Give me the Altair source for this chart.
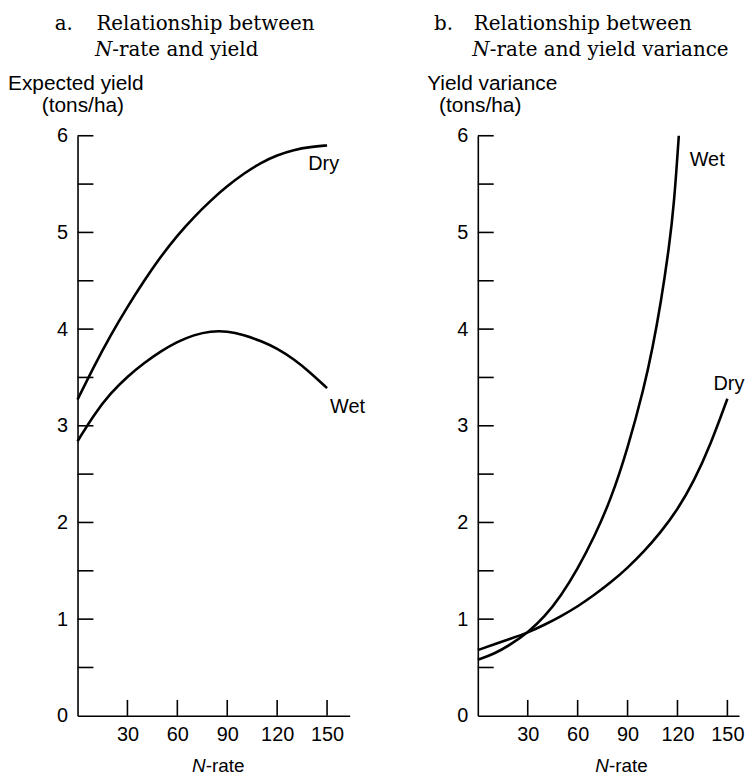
import altair as alt
import pandas as pd

# ---------------- data ----------------
N_A = [0, 10, 20, 30, 40, 50, 60, 70, 80, 90, 100, 110, 120, 130, 140, 150]
DRY_A = [3.27, 3.62, 3.94, 4.23, 4.50, 4.75, 4.97, 5.16, 5.33, 5.48, 5.61, 5.72, 5.80, 5.855, 5.885, 5.90]
WET_A = [2.84, 3.12, 3.34, 3.51, 3.65, 3.77, 3.87, 3.94, 3.98, 3.98, 3.94, 3.88, 3.80, 3.69, 3.55, 3.39]

N_B_DRY = [0, 10, 20, 30, 40, 50, 60, 70, 80, 90, 100, 110, 120, 130, 140, 150]
DRY_B = [0.68, 0.74, 0.80, 0.86, 0.94, 1.03, 1.13, 1.25, 1.38, 1.53, 1.70, 1.90, 2.13, 2.43, 2.81, 3.28]
N_B_WET = [0, 10, 20, 30, 40, 50, 60, 70, 80, 90, 100, 105, 110, 115, 118, 120.8]
WET_B = [0.58, 0.64, 0.74, 0.86, 1.02, 1.24, 1.52, 1.85, 2.24, 2.76, 3.40, 3.80, 4.27, 4.85, 5.30, 6.0]

X_TICKS = [30, 60, 90, 120, 150]
Y_LABELS = [0, 1, 2, 3, 4, 5, 6]
Y_TICKS = [0.5, 1, 1.5, 2, 2.5, 3, 3.5, 4, 4.5, 5, 5.5, 6]

SANS = "Liberation Sans"
SERIF = "DejaVu Serif"
H = 584


def series_df(n, v, name):
    return pd.DataFrame({"n": n, "v": v, "series": name})


def txt(text, x, y, size=20, font=SANS, style="normal", align="left", weight="normal"):
    return alt.Chart(pd.DataFrame({"t": [text]})).mark_text(
        align=align, baseline="alphabetic", font=font, fontSize=size,
        fontStyle=style, fontWeight=weight, color="black"
    ).encode(text="t:N", x=alt.value(x), y=alt.value(y))


def panel(dfs, xmax, width, end_labels, texts):
    data = pd.concat(dfs, ignore_index=True)
    xs = alt.Scale(domain=[0, xmax], nice=False, zero=False)
    ys = alt.Scale(domain=[0, 6], nice=False)
    lines = alt.Chart(data).mark_line(
        color="black", strokeWidth=2.6, interpolate="basis"
    ).encode(
        x=alt.X("n:Q", scale=xs, axis=alt.Axis(values=X_TICKS, title=None, format="d")),
        y=alt.Y("v:Q", scale=ys, axis=alt.Axis(values=Y_LABELS, title=None, format="d")),
        detail="series:N",
    )
    yt = alt.Chart(pd.DataFrame({"v": Y_TICKS})).mark_rule(
        color="black", strokeWidth=1.6
    ).encode(y=alt.Y("v:Q"), x=alt.value(0), x2=alt.value(16))
    xt = alt.Chart(pd.DataFrame({"n": X_TICKS})).mark_rule(
        color="black", strokeWidth=1.6
    ).encode(x=alt.X("n:Q"), y=alt.value(H), y2=alt.value(H - 16))
    layers = [lines, yt, xt]
    for df, name, dx, dy in end_labels:
        last = df.iloc[[-1]].assign(label=name)
        layers.append(
            alt.Chart(last).mark_text(
                align="left", baseline="alphabetic", font=SANS, fontSize=20,
                dx=dx, dy=dy, color="black"
            ).encode(x="n:Q", y="v:Q", text="label:N")
        )
    layers += texts
    return alt.layer(*layers).properties(width=width, height=H)


dA_dry = series_df(N_A, DRY_A, "Dry")
dA_wet = series_df(N_A, WET_A, "Wet")
dB_dry = series_df(N_B_DRY, DRY_B, "Dry")
dB_wet = series_df(N_B_WET, WET_B, "Wet")

texts_a = [
    txt("a.", -23, -106, size=20, font=SERIF),
    txt("Relationship between", 19, -106, size=20, font=SERIF),
    txt("N", 35, -80, size=20, font=SERIF, style="italic", align="right"),
    txt("-rate and yield", 35, -80, size=20, font=SERIF),
    txt("Expected yield", -70, -46, size=21),
    txt("(tons/ha)", -36, -24, size=21),
    txt("N", 129, 641, size=19, style="italic", align="right"),
    txt("-rate", 129, 641, size=19),
]
texts_b = [
    txt("b.", -44, -106, size=20, font=SERIF),
    txt("Relationship between", -4, -106, size=20, font=SERIF),
    txt("N", 12, -80, size=20, font=SERIF, style="italic", align="right"),
    txt("-rate and yield variance", 12, -80, size=20, font=SERIF),
    txt("Yield variance", -51, -46, size=21),
    txt("(tons/ha)", -39, -24, size=21),
    txt("N", 132, 641, size=19, style="italic", align="right"),
    txt("-rate", 132, 641, size=19),
]

pa = panel([dA_dry, dA_wet], 163.6, 274,
           [(dA_dry, "Dry", -19, 25), (dA_wet, "Wet", 3, 25)], texts_a)
pb = panel([dB_dry, dB_wet], 157, 263,
           [(dB_wet, "Wet", 11, 30), (dB_dry, "Dry", -14, -9)], texts_b)

chart = alt.hconcat(pa, pb, spacing=129, bounds="flush").properties(
    padding={"left": 0, "top": 4, "right": 0, "bottom": 0}
).configure_view(stroke=None).configure_axis(
    domainColor="black", domainWidth=1.6, ticks=False, tickSize=0, grid=False,
    labelFont=SANS, labelFontSize=20, labelColor="black",
).configure_axisY(labelPadding=10).configure_axisX(labelPadding=9)

chart.save("out.html", embed_options={"renderer": "svg", "actions": False})
